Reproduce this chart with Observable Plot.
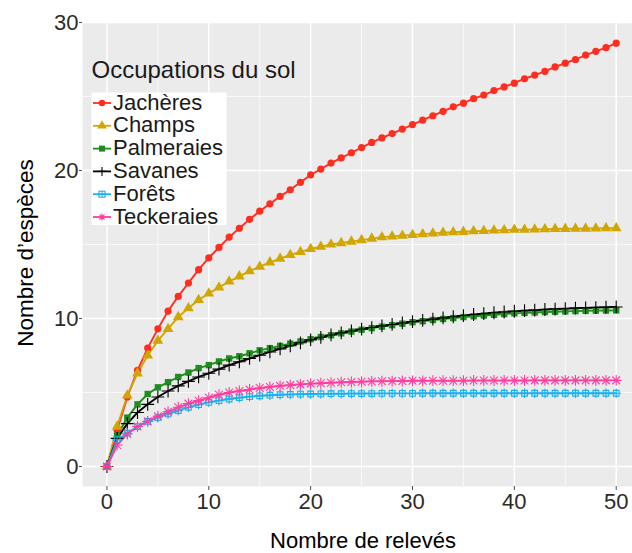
<!DOCTYPE html>
<html><head><meta charset="utf-8">
<script src="https://cdn.jsdelivr.net/npm/d3@7"></script>
<script src="https://cdn.jsdelivr.net/npm/@observablehq/plot@0.6"></script>
<style>html,body{margin:0;padding:0;background:#fff;} #chart{position:relative;width:632px;height:553px;}</style>
</head><body><div id="chart"></div>
<script>
const releves = [0,1,2,3,4,5,6,7,8,9,10,11,12,13,14,15,16,17,18,19,20,21,22,23,24,25,26,27,28,29,30,31,32,33,34,35,36,37,38,39,40,41,42,43,44,45,46,47,48,49,50];
const jacheres = [0,2.45,4.7,6.5,8.0,9.3,10.5,11.5,12.4,13.3,14.1,14.8,15.5,16.1,16.7,17.25,17.75,18.25,18.7,19.2,19.7,20.1,20.5,20.85,21.2,21.55,21.9,22.2,22.5,22.8,23.1,23.4,23.7,24.0,24.3,24.55,24.85,25.1,25.4,25.65,25.9,26.2,26.45,26.7,27.0,27.25,27.5,27.8,28.05,28.3,28.6];
const champs = [0,2.7,4.8,6.3,7.5,8.5,9.3,10.1,10.7,11.25,11.7,12.1,12.5,12.85,13.2,13.5,13.8,14.05,14.3,14.5,14.7,14.85,15.0,15.1,15.2,15.3,15.4,15.5,15.55,15.6,15.65,15.7,15.75,15.8,15.83,15.86,15.9,15.92,15.95,15.97,16.0,16.0,16.02,16.03,16.05,16.06,16.07,16.08,16.09,16.1,16.1];
const palmeraies = [0,2.1,3.3,4.2,4.9,5.35,5.7,6.05,6.35,6.65,6.85,7.1,7.3,7.45,7.65,7.85,8.0,8.15,8.3,8.45,8.6,8.75,8.87,9.0,9.12,9.24,9.35,9.45,9.55,9.65,9.75,9.82,9.9,9.97,10.03,10.1,10.15,10.2,10.25,10.3,10.35,10.38,10.41,10.44,10.46,10.48,10.5,10.52,10.53,10.54,10.55];
const savanes = [0,1.9,2.9,3.65,4.2,4.7,5.1,5.45,5.75,6.05,6.3,6.58,6.85,7.08,7.3,7.52,7.74,7.95,8.16,8.36,8.56,8.73,8.89,9.03,9.16,9.28,9.39,9.5,9.6,9.7,9.79,9.88,9.96,10.04,10.12,10.2,10.27,10.33,10.39,10.44,10.49,10.53,10.57,10.61,10.64,10.67,10.7,10.72,10.74,10.76,10.78];
const forets = [0,1.8,2.25,2.7,3.05,3.3,3.55,3.78,4.0,4.18,4.33,4.45,4.56,4.65,4.72,4.78,4.82,4.85,4.87,4.89,4.9,4.91,4.92,4.92,4.93,4.93,4.93,4.94,4.94,4.94,4.94,4.95,4.95,4.95,4.95,4.95,4.95,4.95,4.95,4.95,4.95,4.95,4.95,4.95,4.95,4.95,4.95,4.95,4.95,4.95,4.95];
const teckeraies = [0,1.45,2.2,2.7,3.05,3.4,3.7,4.0,4.25,4.45,4.65,4.85,5.0,5.1,5.2,5.3,5.38,5.45,5.5,5.55,5.6,5.63,5.66,5.69,5.71,5.73,5.75,5.76,5.77,5.78,5.79,5.79,5.8,5.8,5.8,5.8,5.81,5.81,5.81,5.81,5.81,5.81,5.82,5.82,5.82,5.82,5.82,5.82,5.82,5.82,5.82];

const seriesNames = ["Jachères","Champs","Palmeraies","Savanes","Forêts","Teckeraies"];
const seriesValues = [jacheres, champs, palmeraies, savanes, forets, teckeraies];
const seriesColors = ["#FF2D1F","#D1A600","#1E8C1E","#000000","#1AB0EE","#FF3DA0"];
const xTicks = [0,10,20,30,40,50];
const yTicks = [0,10,20,30];
const xMinor = [5,15,25,35,45];
const yMinor = [5,15,25];
const legendTitle = "Occupations du sol";
const xTitle = "Nombre de relevés";
const yTitle = "Nombre d’espèces";

const data = seriesNames.flatMap((s, i) => releves.map((x, j) => ({serie: s, x, y: seriesValues[i][j]})));
const colorScale = {domain: seriesNames, range: seriesColors};
const bySerie = s => data.filter(d => d.serie === s);

const font = "Liberation Sans, Arial, Helvetica, sans-serif";
const R = 3.6;
const plot = Plot.plot({
  width: 632, height: 553,
  marginLeft: 82, marginTop: 22, marginRight: 0, marginBottom: 67,
  x: {domain: [-2.4, 51.6]},
  y: {domain: [-1.35, 30]},
  color: colorScale,
  style: {fontFamily: font, fontSize: "22px", background: "white", overflow: "visible"},
  marks: [
    Plot.frame({fill: "#EBEBEB", stroke: null}),
    Plot.gridX(xMinor, {stroke: "white", strokeOpacity: 1, strokeWidth: 0.7}),
    Plot.gridY(yMinor, {stroke: "white", strokeOpacity: 1, strokeWidth: 0.7}),
    Plot.gridX(xTicks, {stroke: "white", strokeOpacity: 1, strokeWidth: 1.5}),
    Plot.gridY(yTicks, {stroke: "white", strokeOpacity: 1, strokeWidth: 1.5}),
    Plot.axisX(xTicks, {tickSize: 4, tickPadding: 3, stroke: "#4D4D4D", fill: "#2b2b2b", fontSize: 22, label: null}),
    Plot.axisY(yTicks, {tickSize: 3, tickPadding: 1, stroke: "#4D4D4D", fill: "#2b2b2b", fontSize: 22, label: null}),
    ...seriesNames.map(s => Plot.line(bySerie(s), {x: "x", y: "y", stroke: "serie", strokeWidth: 1.9})),
    Plot.dot(bySerie("Jachères"), {x: "x", y: "y", fill: "serie", r: R, symbol: "circle"}),
    Plot.dot(bySerie("Champs"), {x: "x", y: "y", fill: "serie", r: R + 0.4, symbol: "triangle"}),
    Plot.dot(bySerie("Palmeraies"), {x: "x", y: "y", fill: "serie", r: R, symbol: "square"}),
    Plot.dot(bySerie("Savanes"), {x: "x", y: "y", stroke: "serie", r: R + 0.6, symbol: "plus", strokeWidth: 1.1}),
    Plot.dot(bySerie("Forêts"), {x: "x", y: "y", stroke: "serie", r: R - 0.4, symbol: "square", strokeWidth: 1.1}),
    Plot.dot(bySerie("Forêts"), {x: "x", y: "y", stroke: "serie", r: R - 0.4, symbol: "plus", strokeWidth: 1}),
    Plot.dot(bySerie("Teckeraies"), {x: "x", y: "y", stroke: "serie", r: R, symbol: "plus", strokeWidth: 1.1}),
    Plot.dot(bySerie("Teckeraies"), {x: "x", y: "y", stroke: "serie", r: R, symbol: "times", strokeWidth: 1.1})
  ]
});
document.getElementById("chart").appendChild(plot);

const svg = d3.select(plot);
svg.append("text").attr("x", 363).attr("y", 548).attr("text-anchor", "middle")
  .attr("font-family", font).attr("font-size", 22).attr("fill", "#000").text(xTitle);
svg.append("text").attr("transform", "translate(33,253) rotate(-90)").attr("text-anchor", "middle")
  .attr("font-family", font).attr("font-size", 22.5).attr("fill", "#000").text(yTitle);

const lg = svg.append("g").attr("text-anchor", "start");
lg.append("text").attr("x", 91.5).attr("y", 77.5).attr("text-anchor", "start").attr("font-family", font).attr("font-size", 24).attr("fill", "#1a1a1a").text(legendTitle);
lg.append("rect").attr("x", 91.5).attr("y", 92.5).attr("width", 135).attr("height", 132.5).attr("fill", "white");
seriesNames.forEach((s, i) => {
  const base = 109.5 + i * 22.8;
  const cy = base - 6.5;
  const c = seriesColors[i];
  lg.append("line").attr("x1", 93).attr("x2", 111).attr("y1", cy).attr("y2", cy).attr("stroke", c).attr("stroke-width", 1.8);
  const g = lg.append("g").attr("transform", `translate(102,${cy})`);
  if (i === 0) g.append("circle").attr("r", 3.2).attr("fill", c);
  if (i === 1) g.append("path").attr("d", d3.symbol(d3.symbolTriangle, 40)()).attr("fill", c);
  if (i === 2) g.append("rect").attr("x", -3).attr("y", -3).attr("width", 6).attr("height", 6).attr("fill", c);
  if (i === 3) g.append("path").attr("d", "M-4.5,0H4.5M0,-4.5V4.5").attr("stroke", c).attr("stroke-width", 1.1);
  if (i === 4) { g.append("rect").attr("x", -3).attr("y", -3).attr("width", 6).attr("height", 6).attr("fill", "none").attr("stroke", c).attr("stroke-width", 1.1);
                 g.append("path").attr("d", "M-3,0H3M0,-3V3").attr("stroke", c).attr("stroke-width", 1); }
  if (i === 5) g.append("path").attr("d", "M-3.6,0H3.6M0,-3.6V3.6M-2.6,-2.6L2.6,2.6M-2.6,2.6L2.6,-2.6").attr("stroke", c).attr("stroke-width", 1.1);
  lg.append("text").attr("x", 113).attr("y", base).attr("text-anchor", "start").attr("font-family", font).attr("font-size", 22).attr("fill", "#1a1a1a").text(s);
});
</script></body></html>
